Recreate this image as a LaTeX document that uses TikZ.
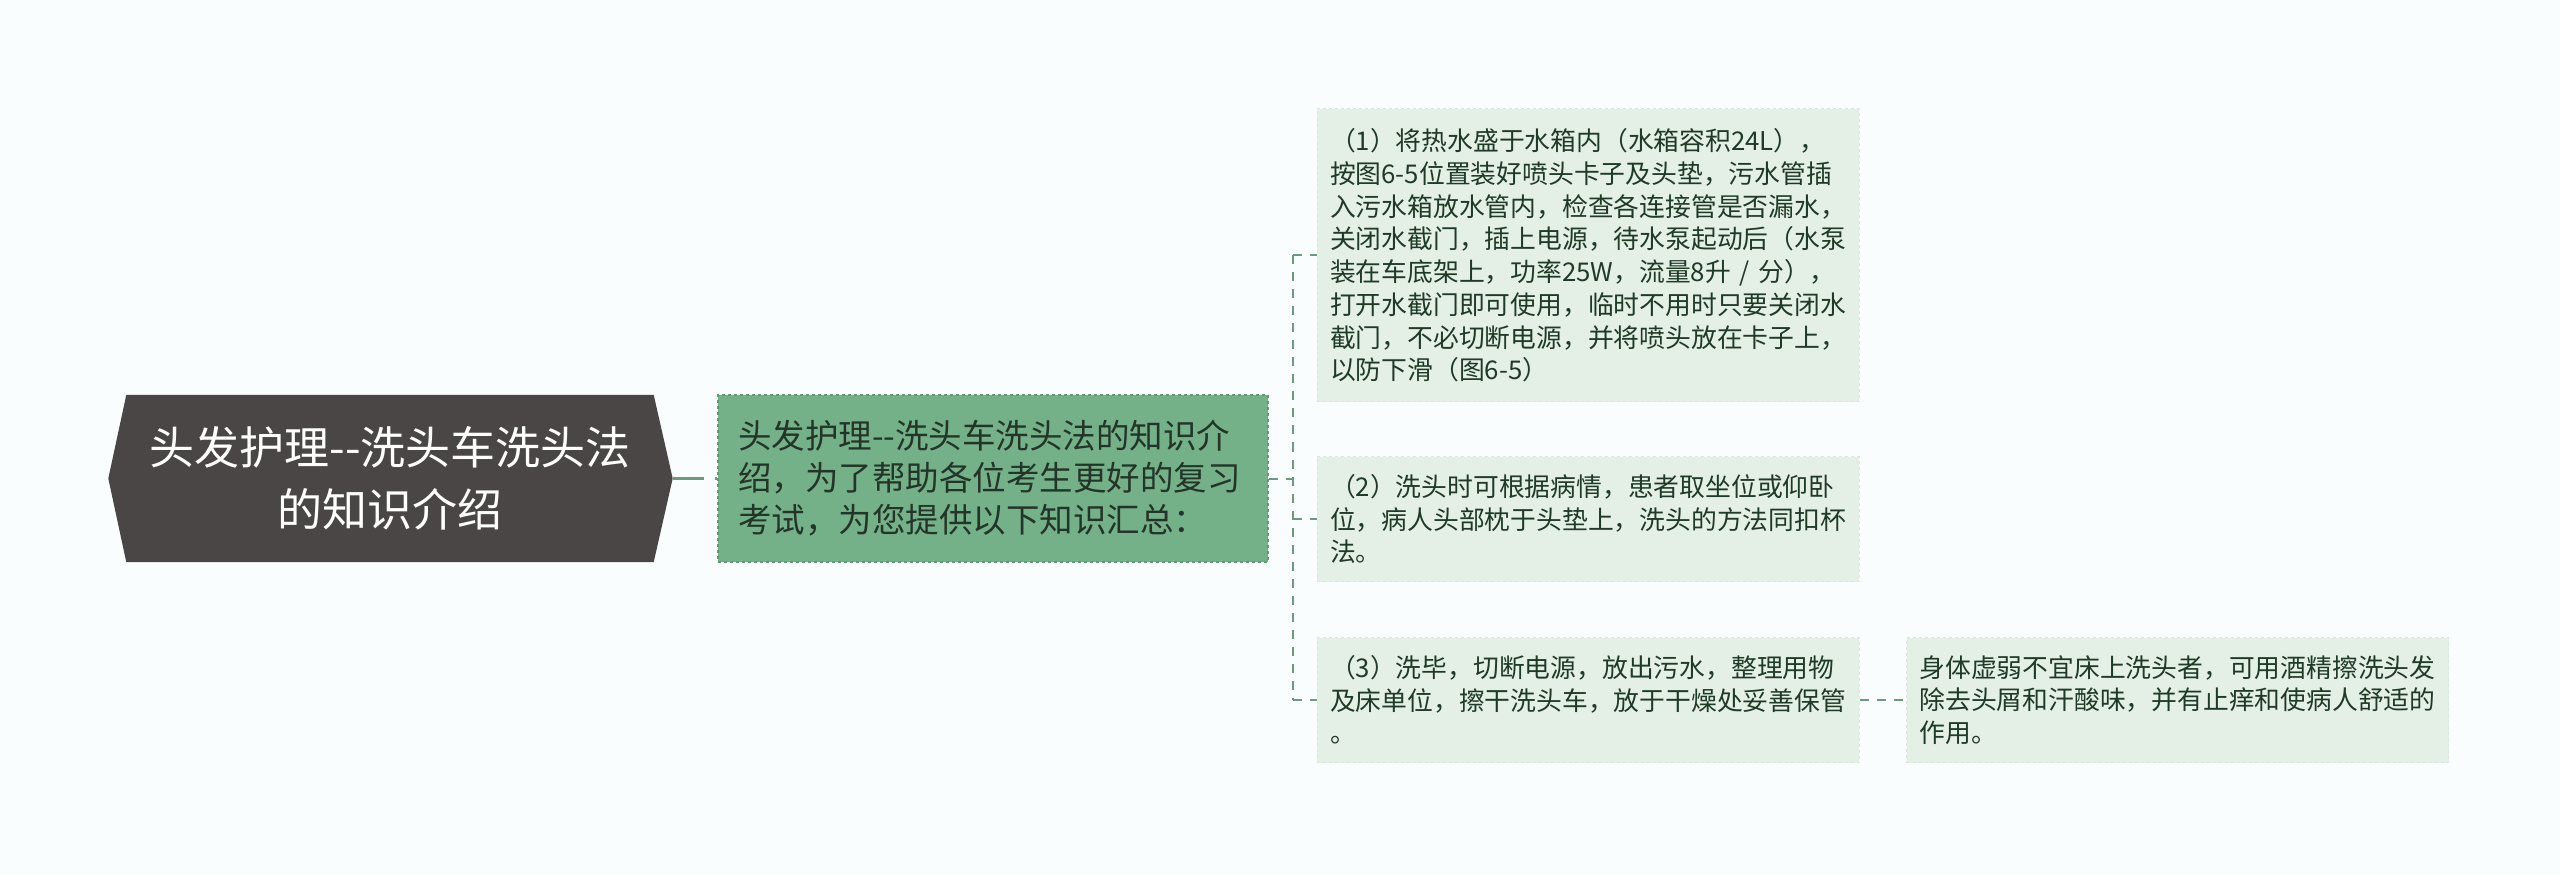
\documentclass[tikz,border=0pt]{standalone}
\usepackage{fontspec}
\newfontfamily\cjk{Noto Sans CJK SC}
\usetikzlibrary{calc,backgrounds}
\definecolor{pagebg}{HTML}{FAFDFD}
\definecolor{rootfill}{HTML}{4B4646}
\definecolor{introfill}{HTML}{74B088}
\definecolor{introline}{HTML}{5E9C72}
\definecolor{introtext}{HTML}{233528}
\definecolor{leaffill}{HTML}{E4EFE6}
\definecolor{leafline}{HTML}{DAE8DD}
\definecolor{leaftext}{HTML}{1F3A26}
\definecolor{linkcol}{HTML}{6C9A7E}
\newcommand\dd{-\kern0pt-}

\begin{document}
\begin{tikzpicture}[x=1pt,y=-1pt,
    rootbox/.style={text=white,minimum width=527pt,minimum height=167pt,
        inner sep=0pt,align=center,font=\cjk\fontsize{45}{62}\selectfont},
    introbox/.style={fill=introfill,draw=introline,dashed,line width=1.5pt,
        text width=510pt,inner xsep=20pt,inner ysep=0pt,minimum height=167pt,
        align=left,text=introtext,font=\cjk\fontsize{33.5}{42}\selectfont},
    leafbox/.style={fill=leaffill,draw=leafline,dashed,line width=1pt,
        text width=516pt,inner xsep=13pt,inner ysep=0pt,minimum height=125pt,
        align=left,text=leaftext,font=\cjk\fontsize{25.8}{32.7}\selectfont},
    link/.style={draw=linkcol,line width=2pt,dash pattern=on 9pt off 8pt}]
    \useasboundingbox (0,0) rectangle (2560,874);

    % root and first level
    \node[rootbox] (root) at (390,478.5) {头发护理\dd 洗头车洗头法\\的知识介绍};
    \coordinate (rootTip) at ([xshift=19pt]root.east);
    \coordinate (rootTail) at ([xshift=-18pt]root.west);
    \node[introbox] (intro) at (993,478.5)
        {头发护理\dd 洗头车洗头法的知识介\\绍，为了帮助各位考生更好的复习\\考试，为您提供以下知识汇总：};

    % leaves
    \node[leafbox,minimum height=293pt] (leafa) at (1588,255.5)
        {（1）将热水盛于水箱内（水箱容积24L），\\按图6-5位置装好喷头卡子及头垫，污水管插\\入污水箱放水管内，检查各连接管是否漏水，\\关闭水截门，插上电源，待水泵起动后（水泵\\装在车底架上，功率25W，流量8升 / 分），\\打开水截门即可使用，临时不用时只要关闭水\\截门，不必切断电源，并将喷头放在卡子上，\\以防下滑（图6-5）};
    \node[leafbox] (leafb) at (1588,519)
        {（2）洗头时可根据病情，患者取坐位或仰卧\\位，病人头部枕于头垫上，洗头的方法同扣杯\\法。};
    \node[leafbox] (leafc) at (1588,700)
        {（3）洗毕，切断电源，放出污水，整理用物\\及床单位，擦干洗头车，放于干燥处妥善保管\\。};
    \node[leafbox] (leafd) at (2177.5,700)
        {身体虚弱不宜床上洗头者，可用酒精擦洗头发\\除去头屑和汗酸味，并有止痒和使病人舒适的\\作用。};

    \begin{scope}[on background layer]
        \fill[pagebg] (0,0) rectangle (2560,874);
        \fill[rootfill] (root.north west) -- (root.north east) -- (rootTip)
            -- (root.south east) -- (root.south west) -- (rootTail) -- cycle;
    \end{scope}

    % connectors
    \coordinate (trunk) at (1293,478.5);
    \draw[link,line width=3pt,dash pattern=on 31pt off 11pt] (rootTip) -- (intro.west);
    \draw[link] (intro.east) -- (trunk);
    \draw[link] (trunk |- leafa.west) -- (trunk |- leafc.west);
    \foreach \leaf in {leafa,leafb,leafc}
        \draw[link] (trunk |- \leaf.west) -- (\leaf.west);
    \draw[link] (leafc.east) -- (leafd.west);
\end{tikzpicture}
\end{document}
